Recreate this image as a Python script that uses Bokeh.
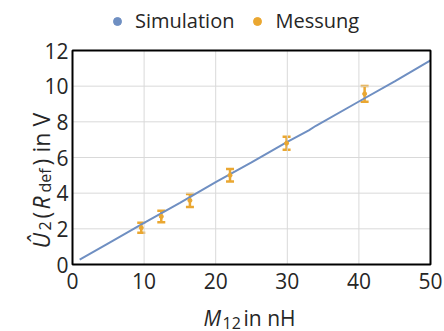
from bokeh.plotting import figure
from bokeh.models import (ColumnDataSource, Whisker, TeeHead, Label, Legend, LegendItem,
                          Range1d, FixedTicker)
from bokeh.embed import file_html
from bokeh.resources import INLINE
import math

# ---- data ----
sim_x = [1, 5, 10, 15, 20, 25, 30, 33, 34, 40, 45, 50]
sim_y = [0.28, 1.19, 2.33, 3.46, 4.62, 5.73, 6.87, 7.52, 7.78, 9.14, 10.27, 11.44]

mess_x = [9.6, 12.4, 16.4, 22.0, 29.9, 40.8]
mess_y = [2.06, 2.69, 3.59, 5.0, 6.8, 9.57]
mess_err = [0.28, 0.32, 0.36, 0.35, 0.37, 0.44]

x_ticks = [0, 10, 20, 30, 40, 50]
y_ticks = [0, 2, 4, 6, 8, 10, 12]

legend_labels = ["Simulation", "Messung"]
ylabel_parts = ["Û", "2", "(", "R", "def", ")", "in V"]
xlabel_parts = ["M", "12", "in nH"]

# ---- style / layout (pixels) ----
W, H = 444, 331
FL, FR, FT, FB = 72, 430, 50, 264        # data-area edges in canvas pixels
BLUE = "#6f8fc2"
ORANGE = "#eaa731"
TXT = "#262626"
FONT = "Open Sans"

x0, x1 = x_ticks[0], x_ticks[-1]
y0, y1 = y_ticks[0], y_ticks[-1]
sx = (FR - FL) / (x1 - x0)
sy = (FB - FT) / (y1 - y0)
xr = Range1d(x0 - FL / sx, x1 + (W - FR) / sx)
yr = Range1d(y0 - (H - FB) / sy, y1 + FT / sy)

p = figure(width=W, height=H, output_backend="svg", toolbar_location=None,
           x_range=xr, y_range=yr, min_border=0)
p.background_fill_color = "white"
p.border_fill_color = "white"
p.outline_line_color = None
p.grid.visible = False

for ax in (p.xaxis[0], p.yaxis[0]):
    ax.fixed_location = 0
    ax.axis_line_color = None
    ax.major_tick_line_color = None
    ax.minor_tick_line_color = None
    ax.major_tick_out = 0
    ax.major_tick_in = 0
    ax.major_label_text_font = FONT
    ax.major_label_text_font_size = "21px"
    ax.major_label_text_color = TXT
p.xaxis.ticker = FixedTicker(ticks=x_ticks)
p.yaxis.ticker = FixedTicker(ticks=y_ticks)
p.xaxis.major_label_standoff = 8
p.yaxis.major_label_standoff = 4

# grid lines inside the data area
inner_x = x_ticks[1:-1]
inner_y = y_ticks[1:-1]
p.segment(x0=inner_x, y0=[y0] * len(inner_x), x1=inner_x, y1=[y1] * len(inner_x),
          line_color="#d9d9d9", line_width=1)
p.segment(x0=[x0] * len(inner_y), y0=inner_y, x1=[x1] * len(inner_y), y1=inner_y,
          line_color="#d9d9d9", line_width=1)

# simulation line
p.line(sim_x, sim_y, line_color=BLUE, line_width=2)

# measurements with error bars
lower = [m - e for m, e in zip(mess_y, mess_err)]
upper = [m + e for m, e in zip(mess_y, mess_err)]
src = ColumnDataSource(dict(x=mess_x, y=mess_y, lower=lower, upper=upper))
wh = Whisker(base="x", lower="lower", upper="upper", source=src, line_color=ORANGE, line_width=2.5,
             upper_head=TeeHead(size=8, line_color=ORANGE, line_width=2.5),
             lower_head=TeeHead(size=8, line_color=ORANGE, line_width=2.5))
p.add_layout(wh)
p.scatter("x", "y", source=src, size=4, color=ORANGE)

# frame box
p.quad(left=[x0], right=[x1], bottom=[y0], top=[y1], fill_color=None,
       line_color="black", line_width=2)

# legend (renderers with a single off-screen point, used only for the legend glyph)
nan = float("nan")
r_sim = p.scatter([nan], [nan], size=9, color=BLUE)
r_mes = p.scatter([nan], [nan], size=9, color=ORANGE)
leg = Legend(items=[LegendItem(label=legend_labels[0], renderers=[r_sim]),
                    LegendItem(label=legend_labels[1], renderers=[r_mes])],
             orientation="horizontal", location=(107, H - 34),
             label_text_font=FONT, label_text_font_size="20px", label_text_color=TXT,
             glyph_width=20, glyph_height=20, label_standoff=8, spacing=13,
             padding=0, margin=0, border_line_color=None, background_fill_alpha=0)
p.add_layout(leg)

def lab(text, x, y, size, style, angle=0.0):
    p.add_layout(Label(text=text, x=x, y=H - y, x_units="screen", y_units="screen",
                       angle=angle, text_font=FONT, text_font_size=size,
                       text_font_style=style, text_color=TXT,
                       text_align="left", text_baseline="alphabetic"))

A = math.pi / 2
y_starts = [248, 230, 218, 209, 192, 165, 152]
y_base = [40, 44, 40, 40, 44, 40, 40]
y_size = ["23px", "16px", "23px", "23px", "16px", "23px", "23px"]
y_style = ["italic", "normal", "normal", "italic", "normal", "normal", "normal"]
for t, bx, st_y, s, st in zip(ylabel_parts, y_base, y_starts, y_size, y_style):
    lab(t, bx, st_y, s, st, A)

x_starts = [203, 222, 243]
x_base = [317, 322, 317]
x_size = ["21px", "16px", "21px"]
x_style = ["italic", "normal", "normal"]
for t, st_x, by, s, st in zip(xlabel_parts, x_starts, x_base, x_size, x_style):
    lab(t, st_x, by, s, st)

open("out.html", "w").write(file_html(p, INLINE))
